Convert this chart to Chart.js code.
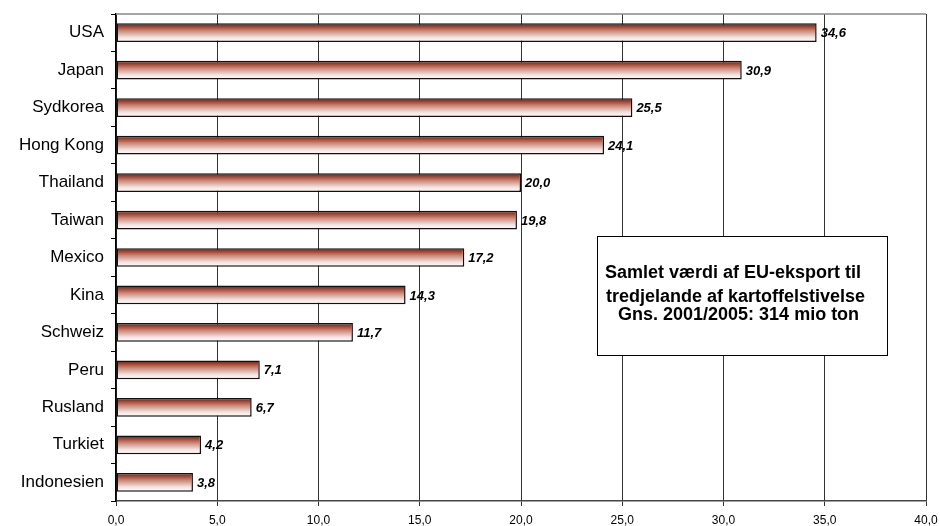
<!DOCTYPE html>
<html>
<head>
<meta charset="utf-8">
<script src="https://cdn.jsdelivr.net/npm/chart.js@4/dist/chart.umd.min.js"></script>
<style>
  html, body { margin: 0; padding: 0; background: #fff; }
  #wrap { width: 940px; height: 526px; }
</style>
</head>
<body>
<div id="wrap"><canvas id="exportChart" width="940" height="526"></canvas></div>
<script>
const countries = ['USA', 'Japan', 'Sydkorea', 'Hong Kong', 'Thailand', 'Taiwan', 'Mexico',
                   'Kina', 'Schweiz', 'Peru', 'Rusland', 'Turkiet', 'Indonesien'];
const exportValues = [34.6, 30.9, 25.5, 24.1, 20.0, 19.8, 17.2, 14.3, 11.7, 7.1, 6.7, 4.2, 3.8];
const noteLines = ['Samlet værdi af EU-eksport til', 'tredjelande af kartoffelstivelse', '  Gns. 2001/2005: 314 mio ton'];

const FONT = "Arial, 'Liberation Sans', sans-serif";
const BAR_PCT = 0.5;

function fmt(v) {
    return v.toFixed(1).replace('.', ',');
}

// vertical red-to-white fade for each bar
function barGradient(context) {
    const chart = context.chart;
    const yScale = chart.scales.y;
    if (!chart.chartArea || !yScale) return '#a04030';
    const centre = yScale.getPixelForValue(context.dataIndex);
    const band = (chart.chartArea.bottom - chart.chartArea.top) / countries.length;
    const half = band * BAR_PCT / 2;
    const g = chart.ctx.createLinearGradient(0, centre - half, 0, centre + half);
    g.addColorStop(0, '#6e1a0c');
    g.addColorStop(0.14, '#9a3a26');
    g.addColorStop(0.4, '#c98a7c');
    g.addColorStop(0.75, '#f0e4e2');
    g.addColorStop(1, '#ffffff');
    return g;
}

const extras = {
    id: 'extras',
    afterDatasetsDraw(chart) {
        const ctx = chart.ctx;
        const area = chart.chartArea;
        ctx.save();

        // grey frame line along the top
        ctx.strokeStyle = '#888';
        ctx.lineWidth = 1.5;
        ctx.beginPath();
        ctx.moveTo(area.left, area.top);
        ctx.lineTo(area.right, area.top);
        ctx.stroke();

        // value labels
        ctx.fillStyle = '#000';
        ctx.font = 'italic bold 13px ' + FONT;
        ctx.textAlign = 'left';
        ctx.textBaseline = 'middle';
        chart.getDatasetMeta(0).data.forEach((bar, i) => {
            ctx.fillText(fmt(exportValues[i]), bar.x + 4, bar.y + 1);
        });

        // note box
        const bx = 597, by = 236, bw = 290, bh = 119;
        ctx.fillStyle = '#fff';
        ctx.fillRect(bx, by, bw, bh);
        ctx.strokeStyle = '#000';
        ctx.lineWidth = 1;
        ctx.strokeRect(bx + 0.5, by + 0.5, bw, bh);
        ctx.fillStyle = '#000';
        ctx.font = 'bold 18px ' + FONT;
        ctx.fillText(noteLines[0], 605, 273);
        ctx.fillText(noteLines[1], 606, 297);
        ctx.fillText(noteLines[2], 608, 315);
        ctx.restore();
    }
};

new Chart(document.getElementById('exportChart'), {
    type: 'bar',
    data: {
        labels: countries,
        datasets: [{
            data: exportValues,
            backgroundColor: barGradient,
            borderColor: '#111',
            borderWidth: 1.5,
            borderSkipped: false,
            barPercentage: BAR_PCT,
            categoryPercentage: 1
        }]
    },
    options: {
        indexAxis: 'y',
        responsive: false,
        animation: false,
        layout: { padding: { top: 14, right: 14, left: 0, bottom: 0 } },
        plugins: {
            legend: { display: false },
            tooltip: { enabled: false }
        },
        scales: {
            x: {
                min: 0,
                max: 40,
                ticks: {
                    stepSize: 5,
                    color: '#000',
                    font: { family: FONT, size: 12 },
                    padding: 7,
                    maxRotation: 0,
                    callback: v => fmt(v)
                },
                grid: { color: '#333', lineWidth: 1, tickLength: 5 },
                border: { color: '#444', width: 1.5 },
                afterFit(scale) {
                    scale.height = 25;
                    scale.paddingLeft = 0;
                    scale.paddingRight = 0;
                }
            },
            y: {
                ticks: {
                    color: '#000',
                    font: { family: FONT, size: 17 },
                    padding: 7
                },
                grid: { drawOnChartArea: false, color: '#000', tickLength: 5, offset: true },
                border: { color: '#000', width: 1.5 },
                afterFit(scale) {
                    scale.width = 116;
                    scale.paddingTop = 0;
                    scale.paddingBottom = 0;
                }
            }
        }
    },
    plugins: [extras]
});
</script>
</body>
</html>
